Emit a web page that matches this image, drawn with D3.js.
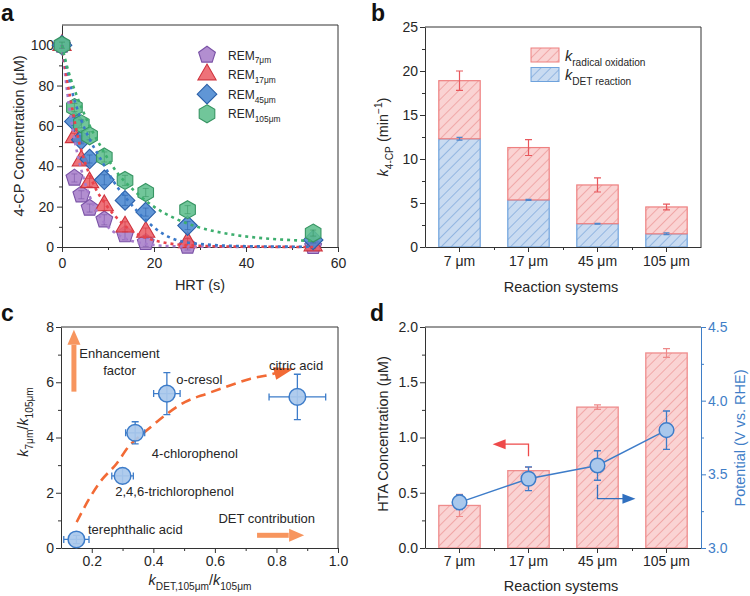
<!DOCTYPE html>
<html><head><meta charset="utf-8">
<script src="https://cdn.jsdelivr.net/npm/d3@7"></script>
<style>
html,body{margin:0;padding:0;background:#fff;}
svg{display:block;}
</style></head><body>
<svg id="chart" width="750" height="596"></svg>
<script>
// ================= DATA =================
// Panel a: 4-CP concentration vs HRT
const hrt = [0, 2.7, 4.2, 6.0, 9.2, 13.7, 18.2, 27.3, 54.6];
const rem7 = [100, 34.2, 25.9, 19.3, 13.5, 6.1, 2.3, 0.5, 0.3];
const rem17 = [100, 54.3, 42.7, 32.0, 20.6, 10.0, 7.4, 2.3, 0.7];
const rem45 = [100, 62.2, 53.1, 43.6, 33.3, 23.1, 17.3, 10.6, 3.5];
const rem105 = [100, 69.1, 61.0, 55.1, 44.6, 33.0, 27.0, 18.5, 6.9];
const remErr = [1.5, 2, 2, 2, 2.5, 2.5, 2, 2, 1.5];
// fitted (dotted) curves
const fit7T = [0, 0.7, 1.6, 2.2, 2.9, 4.0, 5.4, 7.6, 9.7, 12.3, 14.8, 18, 24, 35, 54.6];
const fit7C = [100, 85, 69, 60, 51, 40, 29, 17.5, 10.7, 5.9, 3.3, 1.6, 0.4, 0.1, 0];
const fit17T = [0, 0.7, 1.4, 2.2, 3.6, 5, 7.2, 9.7, 12.6, 15.5, 19, 22.7, 28, 35, 45, 54.6];
const fit17C = [100, 89, 79, 69, 53, 42, 29.5, 20.5, 12.8, 7.5, 4, 2, 0.8, 0.3, 0.1, 0];
const fit45T = [0, 0.4, 1.1, 2.2, 4, 6.1, 8.3, 11.2, 14.8, 17.7, 21.3, 24, 30, 40, 54.6];
const fit45C = [100, 95, 88, 77, 64, 53, 44, 32.5, 21.8, 14.5, 7.5, 4.2, 1.5, 0.4, 0.1];
const fit105T = [0, 0.7, 1.8, 3.2, 5.4, 8.3, 11.9, 15.5, 19.9, 24.9, 30, 37, 44, 51, 54.6];
const fit105C = [100, 93, 84, 75, 63, 50.3, 37.1, 28.3, 20.1, 13.8, 9.6, 6.2, 4.3, 3.3, 3.0];
const aXTicks = [0, 20, 40, 60], aXMinor = [10, 30, 50];
const aYTicks = [0, 20, 40, 60, 80, 100], aYMinor = [10, 30, 50, 70, 90];

// Panel b: rate constants
const systems = ["7 μm", "17 μm", "45 μm", "105 μm"];
const kDET = [12.3, 5.35, 2.65, 1.5];
const kDETErr = [0.15, 0.06, 0.05, 0.1];
const kRadical = [6.6, 5.95, 4.4, 3.05];
const kTotalErr = [1.1, 0.9, 0.8, 0.33];
const bYTicks = [0, 5, 10, 15, 20, 25], bYMinor = [2.5, 7.5, 12.5, 17.5, 22.5];

// Panel c: enhancement factor vs DET contribution
const compounds = ["terephthalic acid", "2,4,6-trichlorophenol", "4-chlorophenol", "o-cresol", "citric acid"];
const detRatio = [0.15, 0.30, 0.341, 0.444, 0.868];
const detRatioErr = [0.041, 0.035, 0.031, 0.043, 0.092];
const enhRatio = [0.31, 2.61, 4.17, 5.59, 5.47];
const enhRatioErr = [0.15, 0.27, 0.4, 0.76, 0.82];
const trendX = [0.151, 0.189, 0.227, 0.281, 0.319, 0.379, 0.439, 0.504, 0.575, 0.651, 0.716, 0.77, 0.857];
const trendY = [0.94, 1.73, 2.39, 3.06, 3.66, 4.26, 4.81, 5.29, 5.59, 5.89, 6.13, 6.25, 6.5];
const cXTicks = [0.2, 0.4, 0.6, 0.8, 1.0], cXMinor = [0.3, 0.5, 0.7, 0.9];
const cYTicks = [0, 2, 4, 6, 8], cYMinor = [1, 3, 5, 7];

// Panel d: HTA concentration and potential
const hta = [0.385, 0.70, 1.275, 1.765];
const htaErr = [0.1, 0.03, 0.02, 0.04];
const potential = [3.31, 3.47, 3.56, 3.80];
const potentialErr = [0.05, 0.08, 0.1, 0.13];
const dYTicks = [0, 0.5, 1.0, 1.5, 2.0], dYMinor = [0.25, 0.75, 1.25, 1.75];
const dRTicks = [3.0, 3.5, 4.0, 4.5], dRMinor = [3.25, 3.75, 4.25];

// ================= DRAWING =================
const FONT = '"Liberation Sans", Arial, Helvetica, sans-serif';
const INK = "#262626", AX = "#333";
const svg = d3.select("#chart").attr("font-family", FONT);
const defs = svg.append("defs");

function hatch(id, bg, line) {
  const p = defs.append("pattern").attr("id", id).attr("patternUnits", "userSpaceOnUse")
    .attr("width", 7).attr("height", 7).attr("patternTransform", "rotate(45)");
  p.append("rect").attr("width", 7).attr("height", 7).attr("fill", bg);
  p.append("line").attr("x1", 3.5).attr("y1", 0).attr("x2", 3.5).attr("y2", 7)
    .attr("stroke", line).attr("stroke-width", 0.9);
}
hatch("hRed", "#FAD3D3", "#EFA3A3");
hatch("hBlue", "#C9DBF1", "#8DB2DF");

function styleAxis(g, color, tcolor) {
  g.attr("font-family", FONT).attr("font-size", 14);
  g.select(".domain").attr("stroke", color);
  g.selectAll(".tick line").attr("stroke", color);
  g.selectAll(".tick text").attr("fill", tcolor);
}
function addAxis(parent, axisFn, scale, transform, ticks, minorTicks, fmt, pad, color, tcolor) {
  const g = parent.append("g").attr("transform", transform)
    .call(axisFn(scale).tickValues(ticks).tickSize(5).tickPadding(pad).tickSizeOuter(0).tickFormat(fmt));
  styleAxis(g, color || AX, tcolor || INK);
  if (minorTicks) {
    const m = parent.append("g").attr("transform", transform)
      .call(axisFn(scale).tickValues(minorTicks).tickSize(3).tickSizeOuter(0).tickFormat(""));
    m.select(".domain").remove();
    m.selectAll(".tick line").attr("stroke", color || AX);
  }
  return g;
}
function rich(sel, parts, size) {
  let off = 0;
  parts.forEach(p => {
    const target = p.sub ? size * 0.32 : p.sup ? -size * 0.42 : 0;
    const ts = sel.append("tspan").attr("dy", (target - off).toFixed(2)).text(p.t)
      .attr("font-size", (p.sub || p.sup) ? size * 0.7 : size);
    if (p.it) ts.attr("font-style", "italic");
    off = target;
  });
  return sel;
}
function vLabel(x, y, parts, size, color) {
  const t = svg.append("text").attr("transform", `translate(${x},${y}) rotate(-90)`)
    .attr("text-anchor", "middle").attr("fill", color || INK).attr("font-size", size);
  rich(t, parts, size);
}
function hLabel(x, y, parts, size, anchor, color) {
  const t = svg.append("text").attr("x", x).attr("y", y)
    .attr("text-anchor", anchor || "middle").attr("fill", color || INK).attr("font-size", size);
  rich(t, parts, size);
  return t;
}
function polyPath(n, r, rot) {
  const pts = d3.range(n).map(i => {
    const a = rot + i * 2 * Math.PI / n;
    return [r * Math.sin(a), -r * Math.cos(a)];
  });
  return "M" + pts.map(p => p[0].toFixed(2) + "," + p[1].toFixed(2)).join("L") + "Z";
}
function arrowHead(g, tx, ty, ux, uy, L, W, color) {
  const bx = tx - ux * L, by = ty - uy * L;
  g.append("path").attr("d", `M${tx},${ty}L${bx - uy * W},${by + ux * W}L${bx + uy * W},${by - ux * W}Z`)
    .attr("fill", color);
}
function panelLetter(x, y, s) {
  svg.append("text").attr("x", x).attr("y", y).attr("font-size", 23).attr("font-weight", "bold")
    .attr("fill", "#111").text(s);
}

// ---------- Panel a ----------
{
  const x = d3.scaleLinear().domain([0, 60]).range([62, 338]);
  const y = d3.scaleLinear().domain([0, 110]).range([247, 25]);
  const g = svg.append("g");
  g.append("path").attr("d", `M${x(0)},${y(110)}H${x(60)}V${y(0)}`).attr("fill", "none").attr("stroke", AX);
  addAxis(g, d3.axisBottom, x, `translate(0,${y(0)})`, aXTicks, aXMinor, d3.format("d"), 6);
  addAxis(g, d3.axisLeft, y, `translate(${x(0)},0)`, aYTicks, aYMinor, d3.format("d"), 3);

  const series = [
    { v: rem7, ft: fit7T, fc: fit7C, fill: "#A77ECA", stroke: "#7A52A6", line: "#A67BCB", shape: polyPath(5, 8.8, 0) },
    { v: rem17, ft: fit17T, fc: fit17C, fill: "#EC5F67", stroke: "#CF333D", line: "#E8434B", shape: polyPath(3, 10.5, 0) },
    { v: rem45, ft: fit45T, fc: fit45C, fill: "#4A88D0", stroke: "#2A5FA8", line: "#3A78C8", shape: polyPath(4, 9.8, 0) },
    { v: rem105, ft: fit105T, fc: fit105C, fill: "#5DBE8C", stroke: "#379563", line: "#3DAE6E", shape: polyPath(6, 9.0, 0) }
  ];
  const line = d3.line().curve(d3.curveMonotoneX);
  series.forEach(s => {
    const mg = g.append("g");
    hrt.forEach((t, i) => {
      const cx = x(t), cy = y(s.v[i]);
      mg.append("path").attr("d", s.shape).attr("transform", `translate(${cx},${cy})`)
        .attr("fill", s.fill).attr("fill-opacity", 0.88).attr("stroke", s.stroke).attr("stroke-width", 1.1);
      const e = remErr[i];
      mg.append("path").attr("d", `M${cx},${y(s.v[i] - e)}V${y(s.v[i] + e)}M${cx - 3},${y(s.v[i] - e)}H${cx + 3}M${cx - 3},${y(s.v[i] + e)}H${cx + 3}`)
        .attr("stroke", s.stroke).attr("stroke-opacity", 0.7).attr("stroke-width", 0.8).attr("fill", "none");
    });
  });
  series.forEach(s => {
    g.append("path").attr("d", line(s.ft.map((t, i) => [x(t), y(s.fc[i])])))
      .attr("fill", "none").attr("stroke", s.line).attr("stroke-width", 2.6)
      .attr("stroke-dasharray", "3,4");
  });
  // legend
  const names = ["7μm", "17μm", "45μm", "105μm"];
  series.forEach((s, i) => {
    const ly = 55 + i * 19.6;
    g.append("path").attr("d", s.shape).attr("transform", `translate(207,${ly})`)
      .attr("fill", s.fill).attr("fill-opacity", 0.88).attr("stroke", s.stroke).attr("stroke-width", 1.1);
    hLabel(228, ly + 4.5, [{ t: "REM" }, { t: names[i], sub: true }], 12, "start");
  });
  vLabel(24, 136, [{ t: "4-CP Concentration (μM)" }], 14.5);
  hLabel(200, 290, [{ t: "HRT (s)" }], 14.5);
  panelLetter(1, 21, "a");
}

// ---------- Panel b ----------
{
  const x = d3.scaleBand().domain(systems).range([425, 701]).paddingInner(0.4).paddingOuter(0.2);
  const xi = d3.scaleLinear().domain([0, systems.length]).range([425, 701]);
  const y = d3.scaleLinear().domain([0, 25]).range([247, 27]);
  const g = svg.append("g");
  g.append("path").attr("d", `M${xi(0)},${y(25)}H${xi(4)}V${y(0)}`).attr("fill", "none").attr("stroke", AX);
  const bw = x.bandwidth();
  systems.forEach((c, i) => {
    const x0 = x(c);
    g.append("rect").attr("x", x0).attr("y", y(kDET[i])).attr("width", bw).attr("height", y(0) - y(kDET[i]))
      .attr("fill", "url(#hBlue)").attr("stroke", "#6EA2DC").attr("stroke-width", 1.2);
    const top = kDET[i] + kRadical[i];
    g.append("rect").attr("x", x0).attr("y", y(top)).attr("width", bw).attr("height", y(kDET[i]) - y(top))
      .attr("fill", "url(#hRed)").attr("stroke", "#EE8080").attr("stroke-width", 1.2);
    const cx = x0 + bw / 2;
    const e = kTotalErr[i];
    g.append("path").attr("d", `M${cx},${y(top - e)}V${y(top + e)}M${cx - 3.5},${y(top - e)}H${cx + 3.5}M${cx - 3.5},${y(top + e)}H${cx + 3.5}`)
      .attr("stroke", "#E8585D").attr("stroke-width", 1.2).attr("fill", "none");
    const e2 = kDETErr[i];
    g.append("path").attr("d", `M${cx},${y(kDET[i] - e2)}V${y(kDET[i] + e2)}M${cx - 3},${y(kDET[i] - e2)}H${cx + 3}M${cx - 3},${y(kDET[i] + e2)}H${cx + 3}`)
      .attr("stroke", "#4E86CC").attr("stroke-width", 1.2).attr("fill", "none");
  });
  addAxis(g, d3.axisBottom, x, `translate(0,${y(0)})`, systems, null, d => d, 4);
  const m = g.append("g").attr("transform", `translate(0,${y(0)})`).call(d3.axisBottom(xi).tickValues([1, 2, 3]).tickSize(3).tickFormat(""));
  m.select(".domain").remove(); m.selectAll(".tick line").attr("stroke", AX);
  addAxis(g, d3.axisLeft, y, `translate(425,0)`, bYTicks, bYMinor, d3.format("d"), 2);
  // legend
  g.append("rect").attr("x", 531).attr("y", 48).attr("width", 28).attr("height", 14)
    .attr("fill", "url(#hRed)").attr("stroke", "#EE8080");
  g.append("rect").attr("x", 531).attr("y", 67.5).attr("width", 28).attr("height", 14)
    .attr("fill", "url(#hBlue)").attr("stroke", "#6EA2DC");
  hLabel(565, 61, [{ t: "k", it: true }, { t: "radical oxidation", sub: true }], 14.5, "start");
  hLabel(565, 80, [{ t: "k", it: true }, { t: "DET reaction", sub: true }], 14.5, "start");
  vLabel(388, 137, [{ t: "k", it: true }, { t: "4-CP", sub: true }, { t: " (min" }, { t: "−1", sup: true }, { t: ")" }], 14.5);
  hLabel(561, 292, [{ t: "Reaction systems" }], 14.5);
  panelLetter(371, 21, "b");
}

// ---------- Panel c ----------
{
  const x = d3.scaleLinear().domain([0.1, 1.0]).range([61, 338]);
  const y = d3.scaleLinear().domain([0, 8]).range([548, 327]);
  const g = svg.append("g");
  g.append("path").attr("d", `M${x(0.1)},${y(8)}H${x(1.0)}V${y(0)}`).attr("fill", "none").attr("stroke", AX);
  addAxis(g, d3.axisBottom, x, `translate(0,${y(0)})`, cXTicks, cXMinor, d3.format(".1f"), 3);
  addAxis(g, d3.axisLeft, y, `translate(${x(0.1)},0)`, cYTicks, cYMinor, d3.format("d"), 2);

  const OR = "#F26A35", OR2 = "#F7955E";
  // dashed trend with arrow
  const n = trendX.length;
  const pts = trendX.map((v, i) => [x(v), y(trendY[i])]);
  const tip = pts[n - 1], prev = pts[n - 2];
  let ux = tip[0] - prev[0], uy = tip[1] - prev[1];
  const L = Math.hypot(ux, uy); ux /= L; uy /= L;
  const body = pts.slice(0, n - 1);
  body.push([tip[0] - ux * 16, tip[1] - uy * 16]);
  g.append("path").attr("d", d3.line().curve(d3.curveMonotoneX)(body))
    .attr("fill", "none").attr("stroke", OR).attr("stroke-width", 2.6).attr("stroke-dasharray", "10,6");
  arrowHead(g, tip[0], tip[1], ux, uy, 20, 6.5, OR);

  // annotation arrows
  g.append("line").attr("x1", x(0.142)).attr("x2", x(0.142)).attr("y1", y(5.66)).attr("y2", y(7.35))
    .attr("stroke", OR2).attr("stroke-width", 5);
  arrowHead(g, x(0.142), y(7.9), 0, -1, 15, 6.5, OR2);
  g.append("line").attr("x1", x(0.737)).attr("x2", x(0.84)).attr("y1", y(0.46)).attr("y2", y(0.46))
    .attr("stroke", OR2).attr("stroke-width", 5);
  arrowHead(g, x(0.89), y(0.46), 1, 0, 15, 6.5, OR2);
  hLabel(x(0.29), y(6.88), [{ t: "Enhancement" }], 13);
  hLabel(x(0.29), y(6.27), [{ t: "factor" }], 13);
  hLabel(x(0.6115), y(0.90), [{ t: "DET contribution" }], 13, "start");

  // points
  const BL = "#3D7CC9";
  const offs = [[11.6, -5.7], [-7.3, 19.8], [16.7, 24.8], [9.3, -9.3], [-28.4, -26.7]];
  compounds.forEach((name, i) => {
    const cx = x(detRatio[i]), cy = y(enhRatio[i]);
    const ex = detRatioErr[i], ey = enhRatioErr[i];
    const x1 = x(detRatio[i] - ex), x2 = x(detRatio[i] + ex), y1 = y(enhRatio[i] - ey), y2 = y(enhRatio[i] + ey);
    g.append("path").attr("d", `M${x1},${cy}H${x2}M${x1},${cy - 3.5}V${cy + 3.5}M${x2},${cy - 3.5}V${cy + 3.5}M${cx},${y1}V${y2}M${cx - 3.5},${y1}H${cx + 3.5}M${cx - 3.5},${y2}H${cx + 3.5}`)
      .attr("stroke", BL).attr("stroke-width", 1.3).attr("fill", "none");
    g.append("circle").attr("cx", cx).attr("cy", cy).attr("r", 8.3)
      .attr("fill", "#A9C8EC").attr("fill-opacity", 0.92).attr("stroke", BL).attr("stroke-width", 1.5);
    hLabel(cx + offs[i][0], cy + offs[i][1], [{ t: name }], 13, "start");
  });
  vLabel(28, 422, [{ t: "k", it: true }, { t: "7μm", sub: true }, { t: "/" }, { t: "k", it: true }, { t: "105μm", sub: true }], 14.5);
  hLabel(200, 585, [{ t: "k", it: true }, { t: "DET,105μm", sub: true }, { t: "/" }, { t: "k", it: true }, { t: "105μm", sub: true }], 14.5);
  panelLetter(1, 321, "c");
}

// ---------- Panel d ----------
{
  const x = d3.scaleBand().domain(systems).range([425, 701]).paddingInner(0.4).paddingOuter(0.2);
  const xi = d3.scaleLinear().domain([0, systems.length]).range([425, 701]);
  const y = d3.scaleLinear().domain([0, 2]).range([548, 327]);
  const yr = d3.scaleLinear().domain([3, 4.5]).range([548, 327]);
  const g = svg.append("g");
  const BLUEAX = "#3F7EC7";
  g.append("path").attr("d", `M${xi(0)},${y(2)}H${xi(4)}`).attr("fill", "none").attr("stroke", AX);
  const bw = x.bandwidth();
  systems.forEach((c, i) => {
    const x0 = x(c), cx = x0 + bw / 2;
    g.append("rect").attr("x", x0).attr("y", y(hta[i])).attr("width", bw).attr("height", y(0) - y(hta[i]))
      .attr("fill", "url(#hRed)").attr("stroke", "#EF8C8C").attr("stroke-width", 1.3);
    const e = htaErr[i];
    g.append("path").attr("d", `M${cx},${y(hta[i] - e)}V${y(hta[i] + e)}M${cx - 3.5},${y(hta[i] - e)}H${cx + 3.5}M${cx - 3.5},${y(hta[i] + e)}H${cx + 3.5}`)
      .attr("stroke", "#EE8A8A").attr("stroke-width", 1.2).attr("fill", "none");
  });
  addAxis(g, d3.axisBottom, x, `translate(0,${y(0)})`, systems, null, d => d, 3);
  const m = g.append("g").attr("transform", `translate(0,${y(0)})`).call(d3.axisBottom(xi).tickValues([1, 2, 3]).tickSize(3).tickFormat(""));
  m.select(".domain").remove(); m.selectAll(".tick line").attr("stroke", AX);
  addAxis(g, d3.axisLeft, y, `translate(425,0)`, dYTicks, dYMinor, d3.format(".1f"), 2);
  addAxis(g, d3.axisRight, yr, `translate(701,0)`, dRTicks, dRMinor, d3.format(".1f"), 2, BLUEAX, BLUEAX);

  // annotation arrows
  const RA = "#EE4A4A";
  const c17 = x(systems[1]) + bw / 2, c45 = x(systems[2]) + bw / 2;
  g.append("path").attr("d", `M${c17},${y(0.83)}V${y(0.94)}H${xi(0.98) + 12}`).attr("fill", "none").attr("stroke", RA).attr("stroke-width", 1.3);
  arrowHead(g, xi(0.98), y(0.94), -1, 0, 13, 5, RA);
  g.append("path").attr("d", `M${c45},${yr(3.43)}V${yr(3.335)}H${xi(3.05) - 12}`).attr("fill", "none").attr("stroke", "#3070C0").attr("stroke-width", 1.3);
  arrowHead(g, xi(3.05), yr(3.335), 1, 0, 13, 5, "#3070C0");

  // potential line + points
  const BL = "#3D7CC9";
  const pts = systems.map((c, i) => [x(c) + bw / 2, yr(potential[i])]);
  g.append("path").attr("d", d3.line()(pts)).attr("fill", "none").attr("stroke", BL).attr("stroke-width", 1.4);
  systems.forEach((c, i) => {
    const [cx, cy] = pts[i];
    const e = potentialErr[i];
    const y1 = yr(potential[i] - e), y2 = yr(potential[i] + e);
    g.append("path").attr("d", `M${cx},${y1}V${y2}M${cx - 3.5},${y1}H${cx + 3.5}M${cx - 3.5},${y2}H${cx + 3.5}`)
      .attr("stroke", BL).attr("stroke-width", 1.3).attr("fill", "none");
    g.append("circle").attr("cx", cx).attr("cy", cy).attr("r", 7.3)
      .attr("fill", "#A9C8EC").attr("stroke", BL).attr("stroke-width", 1.5);
  });
  vLabel(388, 434, [{ t: "HTA Concentration (μM)" }], 14.5);
  vLabel(745, 438, [{ t: "Potential (V vs. RHE)" }], 14.5, BLUEAX);
  hLabel(561, 591, [{ t: "Reaction systems" }], 14.5);
  panelLetter(370, 321, "d");
}
</script>
</body></html>
